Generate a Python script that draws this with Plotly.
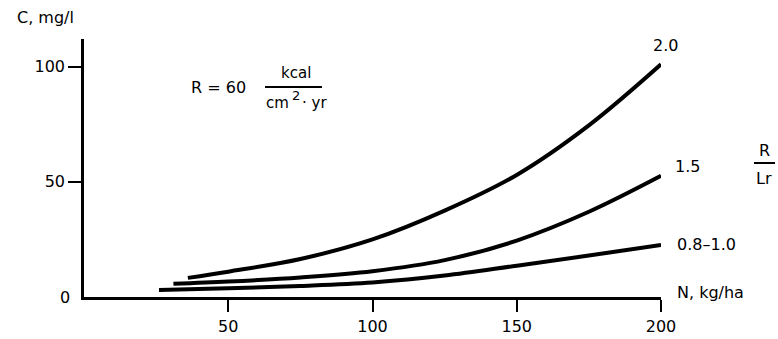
import plotly.graph_objects as go

# Nitrate concentration C (mg/l) versus nitrogen application N (kg/ha)
# for three ratios R/Lr at R = 60 kcal/(cm^2 yr)
n_20 = [36, 50, 75, 100, 125, 150, 175, 200]
c_20 = [8.3, 11.0, 16.5, 25.0, 37.5, 53.0, 74.5, 101.0]

n_15 = [31, 50, 75, 100, 125, 150, 175, 200]
c_15 = [5.7, 6.7, 8.5, 11.2, 16.0, 24.5, 37.0, 52.6]

n_08 = [26, 50, 75, 100, 125, 150, 175, 200]
c_08 = [3.0, 3.8, 4.8, 6.3, 9.3, 13.6, 18.0, 22.6]

series_names = ["2.0", "1.5", "0.8\u20131.0"]
series_n = [n_20, n_15, n_08]
series_c = [c_20, c_15, c_08]

x_ticks = [50, 100, 150, 200]
y_ticks = [50, 100]

FONT = "DejaVu Sans"
L, R, T, B = 84, 117, 39, 42
W, H = 778, 339
pw, ph = W - L - R, H - T - B


def px_x(p):
    return (p - L) / pw


def px_y(p):
    return (H - B - p) / ph


def paper_text(text, x, y, size=16, anchor="center"):
    return dict(x=px_x(x), y=px_y(y), xref="paper", yref="paper", text=text,
                showarrow=False, xanchor=anchor, yanchor="middle", font=dict(size=size))


fig = go.Figure()
for name, xs, ys in zip(series_names, series_n, series_c):
    fig.add_trace(go.Scatter(
        x=xs, y=ys, mode="lines", name=name,
        line=dict(color="black", width=4, shape="spline", smoothing=1.0),
        showlegend=False, hoverinfo="skip",
    ))

# curve labels placed at each curve's end point
label_offsets = {"2.0": ("center", 4, 19), "1.5": ("left", 12, 9), "0.8\u20131.0": ("left", 14, 0)}
annotations = []
for name, xs, ys in zip(series_names, series_n, series_c):
    anchor, dx, dy = label_offsets[name]
    annotations.append(dict(x=xs[-1], y=ys[-1], xref="x", yref="y", text=name,
                            showarrow=False, xanchor=anchor, yanchor="middle",
                            xshift=dx, yshift=dy, font=dict(size=16)))

annotations += [
    dict(x=200, y=0, xref="x", yref="y", text="N, kg/ha", showarrow=False,
         xanchor="left", yanchor="middle", xshift=14, yshift=5, font=dict(size=16)),
    dict(x=px_x(72), y=0, xref="paper", yref="y", text="0", showarrow=False,
         xanchor="right", yanchor="middle", font=dict(size=16)),
    paper_text("C, mg/l", 15, 17, anchor="left"),
    paper_text("R = 60", 218, 87),
    # units fraction kcal / (cm^2 . yr)
    paper_text("kcal", 296, 73, size=15),
    paper_text("cm", 264, 103, size=15, anchor="left"),
    paper_text("2", 290, 95, size=13, anchor="left"),
    paper_text("\u00b7 yr", 300, 103, size=15, anchor="left"),
    # ratio label R / Lr
    paper_text("R", 764, 150),
    paper_text("Lr", 764, 178),
]

shapes = [
    dict(type="line", xref="paper", yref="paper", x0=px_x(265), x1=px_x(322),
         y0=px_y(87), y1=px_y(87), line=dict(color="black", width=2)),
    dict(type="line", xref="paper", yref="paper", x0=px_x(754), x1=px_x(775),
         y0=px_y(163), y1=px_y(163), line=dict(color="black", width=2)),
]

fig.update_layout(
    width=W, height=H,
    margin=dict(l=L, r=R, t=T, b=B, pad=0, autoexpand=False),
    paper_bgcolor="white", plot_bgcolor="white",
    font=dict(family=FONT, size=16, color="black"),
    annotations=annotations, shapes=shapes,
    xaxis=dict(range=[0, 200], tickvals=x_ticks, ticktext=[str(v) for v in x_ticks],
               ticks="outside", ticklen=12, tickwidth=1.5, tickcolor="black",
               showline=True, linecolor="black", linewidth=3, showgrid=False,
               zeroline=False, ticklabelstandoff=1, tickfont=dict(size=16),
               automargin=False),
    yaxis=dict(range=[0, 112], tickvals=y_ticks, ticktext=[str(v) for v in y_ticks],
               ticks="outside", ticklen=13, tickwidth=2, tickcolor="black",
               showline=True, linecolor="black", linewidth=2.5, showgrid=False,
               zeroline=False, tickfont=dict(size=16), automargin=False),
)

fig.write_html("out.html")
